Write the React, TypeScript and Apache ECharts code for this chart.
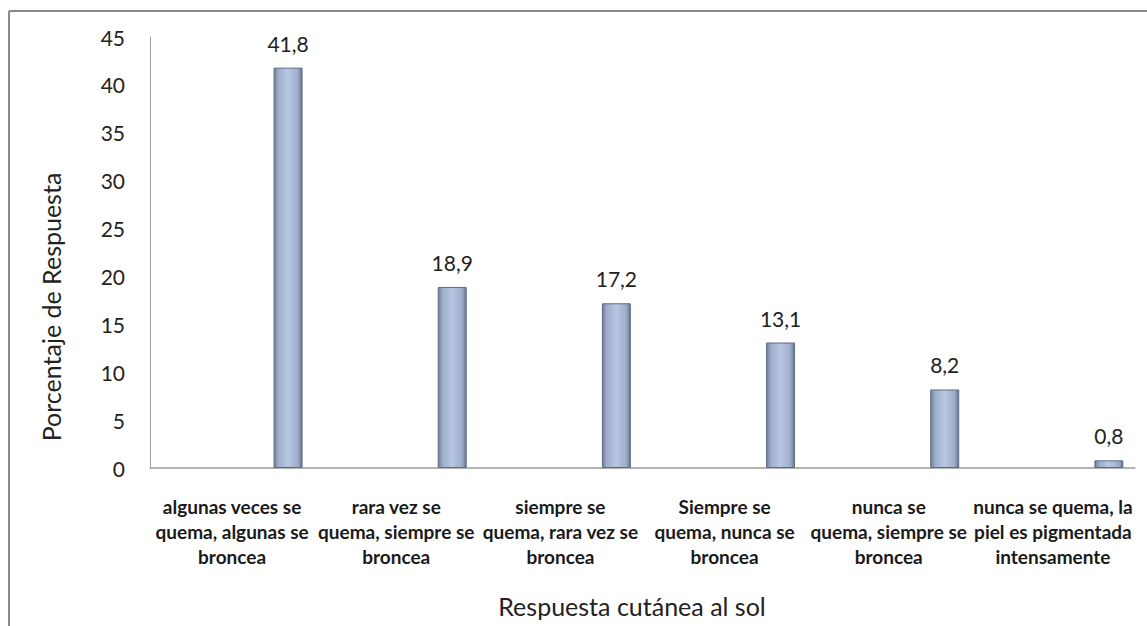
import React, { useEffect, useRef } from "react";
import * as echarts from "echarts";

const categories = [
  "algunas veces se\nquema, algunas se\nbroncea",
  "rara vez se\nquema, siempre se\nbroncea",
  "siempre se\nquema, rara vez se\nbroncea",
  "Siempre se\nquema, nunca se\nbroncea",
  "nunca se\nquema, siempre se\nbroncea",
  "nunca se quema, la\npiel es pigmentada\nintensamente",
];
const emptySeries = [null, null, null, null, null, null];
const values = [41.8, 18.9, 17.2, 13.1, 8.2, 0.8];
const yTicks = { min: 0, max: 45, interval: 5 };
const xTitle = "Respuesta cutánea al sol";
const yTitle = "Porcentaje de Respuesta";

const FONT = "Lato, 'Open Sans', sans-serif";

export default function App() {
  const ref = useRef<HTMLDivElement>(null);
  useEffect(() => {
    if (!ref.current) return;
    const chart = echarts.init(ref.current, null, { renderer: "svg" });
    const barColor = new echarts.graphic.LinearGradient(0, 0, 1, 0, [
      { offset: 0, color: "#6e7c97" },
      { offset: 0.15, color: "#9eadc9" },
      { offset: 0.5, color: "#b7c6e1" },
      { offset: 0.85, color: "#9eadc9" },
      { offset: 1, color: "#66738e" },
    ]);
    chart.setOption({
      animation: false,
      backgroundColor: "#ffffff",
      textStyle: { fontFamily: FONT },
      grid: {
        left: 150,
        right: 12,
        top: 37,
        bottom: 158,
        containLabel: false,
        outerBoundsMode: "none",
      },
      graphic: [
        {
          type: "line",
          shape: { x1: 9, y1: 11, x2: 1147, y2: 11 },
          style: { stroke: "#8a8a8a", lineWidth: 2 },
        },
        {
          type: "line",
          shape: { x1: 9, y1: 11, x2: 9, y2: 626 },
          style: { stroke: "#8a8a8a", lineWidth: 2 },
        },
        {
          type: "text",
          x: 51,
          y: 307,
          rotation: Math.PI / 2,
          style: {
            text: yTitle,
            fontSize: 25,
            fontFamily: FONT,
            fill: "#222",
            align: "center",
            verticalAlign: "middle",
          },
        },
        {
          type: "text",
          x: 632,
          y: 606,
          style: {
            text: xTitle,
            fontSize: 25,
            fontFamily: FONT,
            fill: "#222",
            align: "center",
            verticalAlign: "middle",
          },
        },
      ],
      xAxis: {
        type: "category",
        data: categories,
        axisLine: { lineStyle: { color: "#9a9a9a", width: 1.5 } },
        axisTick: { show: false },
        axisLabel: {
          interval: 0,
          margin: 26,
          fontSize: 19,
          fontWeight: "bold",
          color: "#1a1a1a",
          lineHeight: 25,
          fontFamily: FONT,
        },
      },
      yAxis: {
        type: "value",
        min: yTicks.min,
        max: yTicks.max,
        interval: yTicks.interval,
        axisLine: { show: true, lineStyle: { color: "#a0a0a0", width: 1 } },
        axisTick: { show: false },
        splitLine: { show: false },
        axisLabel: { fontSize: 21, color: "#222", margin: 25, fontFamily: FONT },
      },
      series: [
        {
          type: "bar",
          name: "vacío",
          data: emptySeries,
          barWidth: 29,
          barGap: "286%",
        },
        {
          type: "bar",
          name: "Porcentaje",
          data: values,
          barWidth: 29,
          barGap: "286%",
          itemStyle: {
            color: barColor,
            borderColor: "#5f6c86",
            borderWidth: 1,
          },
          label: {
            show: true,
            position: "top",
            distance: 14,
            fontSize: 21,
            color: "#222",
            fontFamily: FONT,
            formatter: (p: any) => String(p.value).replace(".", ","),
          },
        },
      ],
    });
    return () => chart.dispose();
  }, []);
  return (
    <div
      ref={ref}
      style={{ position: "absolute", left: 0, top: 0, width: 1147, height: 626 }}
    />
  );
}
